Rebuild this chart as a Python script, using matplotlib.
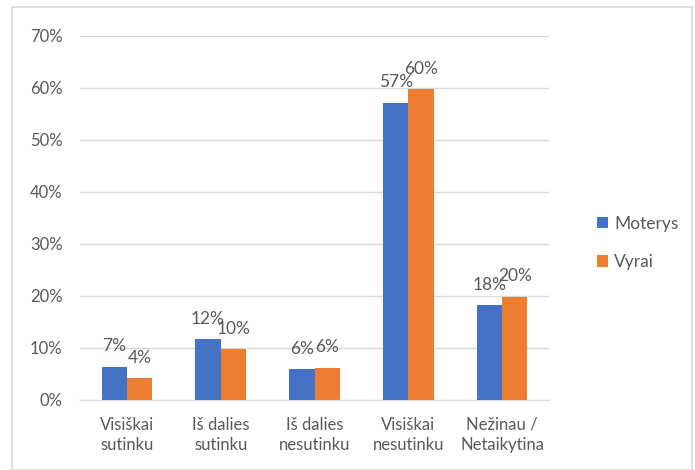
import matplotlib
matplotlib.use("Agg")
import matplotlib.pyplot as plt
from matplotlib.patches import Rectangle, Patch
import numpy as np

categories = ["Visiškai\nsutinku", "Iš dalies\nsutinku", "Iš dalies\nnesutinku", "Visiškai\nnesutinku", "Nežinau /\nNetaikytina"]
moterys = [0.064, 0.117, 0.060, 0.572, 0.183]
vyrai = [0.042, 0.098, 0.062, 0.598, 0.199]
moterys_labels = ["7%", "12%", "6%", "57%", "18%"]
vyrai_labels = ["4%", "10%", "6%", "60%", "20%"]
yticks = [0, 0.1, 0.2, 0.3, 0.4, 0.5, 0.6, 0.7]
ytick_labels = ["0%", "10%", "20%", "30%", "40%", "50%", "60%", "70%"]

plt.rcParams['font.family'] = ['Lato', 'DejaVu Sans']
TXT = "#595959"
BLUE = "#4472C4"
ORANGE = "#ED7D31"

W, H = 695, 470
fig = plt.figure(figsize=(W/100, H/100), dpi=100)
fig.patches.append(Rectangle((12/W, 0), (692-12)/W, (H-7)/H, transform=fig.transFigure,
                             fill=False, edgecolor="#D9D9D9", linewidth=1.2))
ax = fig.add_axes([80/W, 1-400/H, (549-80)/W, (400-36)/H])

x = np.arange(len(categories))
bw = 0.27
b1 = ax.bar(x - bw/2, moterys, bw, color=BLUE, label="Moterys", zorder=3)
b2 = ax.bar(x + bw/2, vyrai, bw, color=ORANGE, label="Vyrai", zorder=3)

for bars, labels in ((b1, moterys_labels), (b2, vyrai_labels)):
    for rect, lab in zip(bars, labels):
        ax.annotate(lab, (rect.get_x()+rect.get_width()/2, rect.get_height()), xytext=(0, 11),
                    textcoords="offset points", ha="center", va="baseline", fontsize=12.5,
                    color=TXT, zorder=4)

ax.set_xlim(-0.5, len(categories)-0.5)
ax.set_ylim(0, 0.7)
ax.set_yticks(yticks)
ax.set_yticklabels(ytick_labels, fontsize=12, color=TXT)
ax.set_xticks(x)
ax.set_xticklabels(categories, fontsize=12, color=TXT, linespacing=1.35)
ax.tick_params(axis="both", length=0)
ax.tick_params(axis="y", pad=12.5)
ax.tick_params(axis="x", pad=12)
ax.grid(axis="y", color="#D9D9D9", linewidth=1, zorder=0)
for s in ["top", "right", "left"]:
    ax.spines[s].set_visible(False)
ax.spines["bottom"].set_color("#D9D9D9")
ax.spines["bottom"].set_zorder(1)

handles = [Patch(facecolor=BLUE, label="Moterys"), Patch(facecolor=ORANGE, label="Vyrai")]
fig.legend(handles=handles, loc="center left", bbox_to_anchor=(581/W, 1-243/H), frameon=False,
           fontsize=12.5, labelcolor=TXT, handlelength=0.65, handleheight=0.65, handletextpad=0.35,
           labelspacing=1.3)

fig.savefig("out.png", dpi=100)
